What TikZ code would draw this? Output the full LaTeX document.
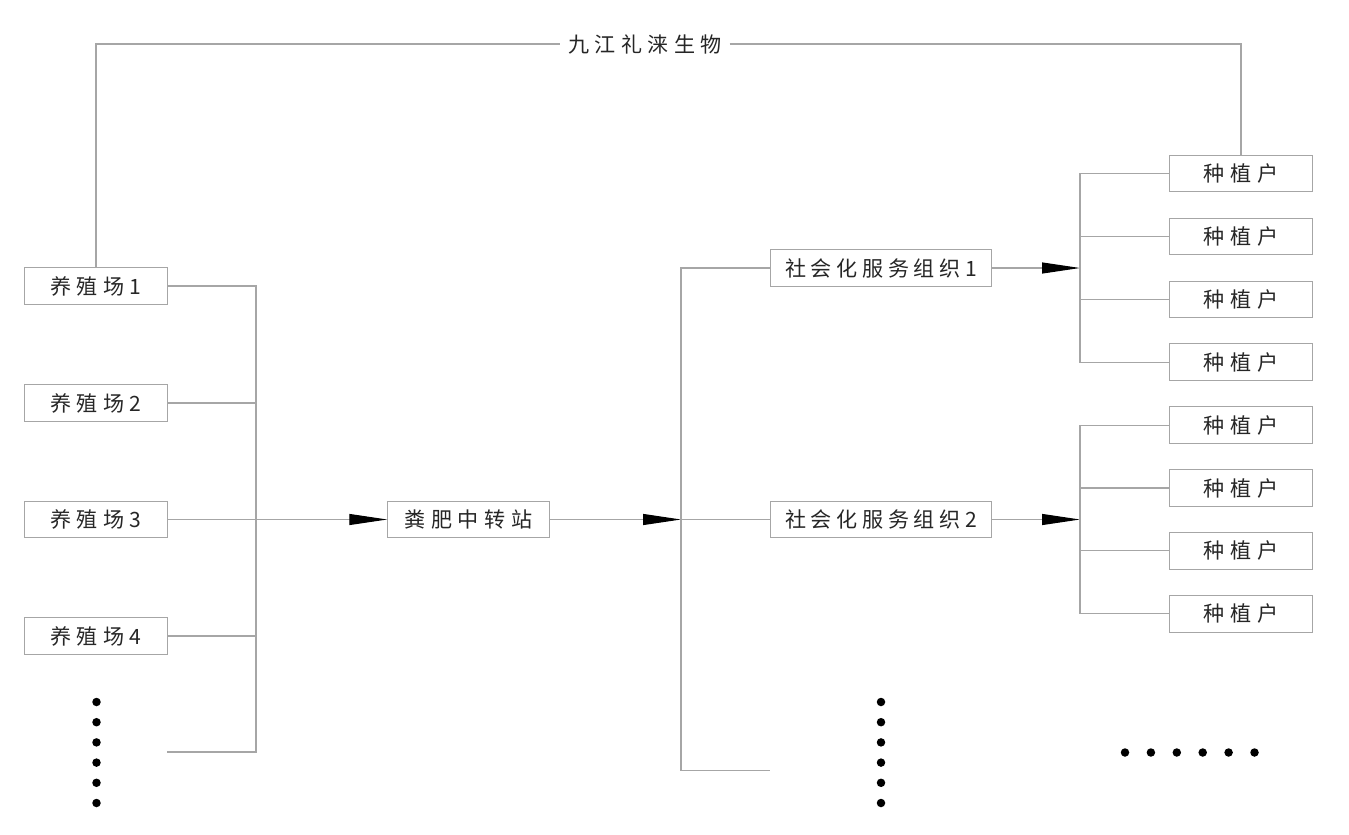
\documentclass[tikz,border=0pt]{standalone}
\usepackage{fontspec}
\setmainfont{Noto Sans CJK SC}
\usepackage{tikz}
\usetikzlibrary{arrows.meta}
\tikzset{
  conn/.style={draw=black!35, line width=0.6pt},
  tip/.style={-{Triangle[length=0.76cm,width=0.22cm,color=black]}},
  box/.style={draw=black!35, line width=0.6pt, minimum height=0.73cm, inner sep=0pt, text=black!85,
    font=\fontsize{12}{12}\selectfont\addfontfeature{LetterSpace=26}},
  farmbox/.style={box, minimum width=2.86cm},
  hubbox/.style={box, minimum width=3.23cm},
  orgbox/.style={box, minimum width=4.43cm, font=\fontsize{12}{12}\selectfont\addfontfeature{LetterSpace=22}}
}
\newcommand{\dotline}[4]{
\foreach \n in {0,...,5} \fill ({#1+#3*\n},{#2+#4*\n}) circle (0.085cm);
}

\begin{document}
\begin{tikzpicture}[x=0.02cm,y=-0.02cm]
\useasboundingbox (0,0) rectangle (1349,835);
\foreach \n/\y in {1/286,2/403,3/519.5,4/636} \node[farmbox] (farm\n) at (96,\y) {养殖场\n};
\node[hubbox] (hub) at (468.5,519.5) {粪肥中转站};
\node[orgbox] (org1) at (881,268) {社会化服务组织1};
\node[orgbox] (org2) at (881,519.5) {社会化服务组织2};
\foreach \n in {1,...,8} \node[farmbox] (plant\n) at (1241,{173.5+62.9*(\n-1)}) {种植户};
\node[box, draw=none, inner sep=4pt] (title) at (645,44) {九江礼涞生物};

\coordinate (busAbot) at (256,752);
\coordinate (farmend) at (167,752);
\coordinate (busB) at (681,519.5);
\coordinate (busBbot) at (681,770.5);
\coordinate (orgend) at (770,770.5);
\coordinate (busC) at (1080,268);
\coordinate (busD) at (1080,519.5);

\draw[conn] (farm1.north) |- (title.west);
\draw[conn] (title.east) -| (plant1.north);
\draw[conn] (farm1.east) -| (busAbot) -- (farmend);
\foreach \n in {2,4} \draw[conn] (farm\n.east) -- (farm\n.east -| busAbot);
\draw[conn,tip] (farm3.east) -- (hub.west);
\draw[conn,tip] (hub.east) -- (busB);
\draw[conn] (busB) -- (org2.west);
\draw[conn] (org1.west) -| (busBbot) -- (orgend);
\draw[conn,tip] (org1.east) -- (busC);
\draw[conn,tip] (org2.east) -- (busD);
\draw[conn] (plant1.west) -| (busC) |- (plant4.west);
\draw[conn] (plant5.west) -| (busD) |- (plant8.west);
\foreach \n in {2,3} \draw[conn] (plant\n.west) -- (plant\n.west -| busC);
\foreach \n in {6,7} \draw[conn] (plant\n.west) -- (plant\n.west -| busD);

\dotline{96.5}{702}{0}{20.2}
\dotline{881}{702}{0}{20.2}
\dotline{1125}{752.5}{25.9}{0}
\end{tikzpicture}
\end{document}
